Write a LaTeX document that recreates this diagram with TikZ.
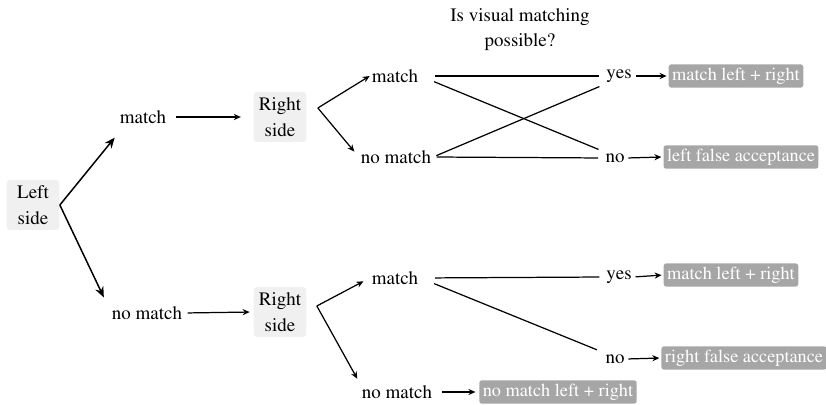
\documentclass[tikz,border=0pt]{standalone}
\usepackage[T1]{fontenc}
\usepackage{mathptmx}
\usetikzlibrary{arrows.meta, positioning}
\definecolor{sidegrey}{rgb}{0.94, 0.94, 0.94}
\definecolor{resultgrey}{rgb}{0.65, 0.65, 0.65}

\begin{document}
\begin{tikzpicture}[x=0.02cm, y=-0.02cm, font=\fontsize{10.8}{15}\selectfont,
  side/.style={fill=sidegrey, rounded corners=2pt, align=center, minimum width=1.06cm, minimum height=1.0cm, inner sep=1pt},
  word/.style={inner sep=1pt},
  result/.style={fill=resultgrey, text=white, rounded corners=1.5pt, minimum height=0.46cm, inner sep=2pt, font=\fontsize{10.4}{12}\selectfont},
  bigarrow/.style={-{Stealth[length=6pt, width=5pt]}, line width=0.85pt},
  arrow/.style={-{Stealth[length=4pt, width=3.5pt]}, line width=0.7pt},
  link/.style={line width=0.7pt}]

  \useasboundingbox (0,0) rectangle (826,405);

  % question
  \node[align=center, font=\fontsize{10.8}{14.2}\selectfont] (q) at (520,30) {Is visual matching\\possible?};

  % left side
  \node[side] (left) at (33,205) {Left\\side};
  \node[word] (m)  at (143,117) {match};
  \node[word] (nm) at (147,313) {no match};

  \draw[bigarrow] (left.east) -- ([shift={(-3,12)}]m.south west);
  \draw[bigarrow] (left.east) -- ([shift={(-6,-7)}]nm.north west);

  % right side
  \node[side] (rs1) at (280,117) {Right\\side};
  \node[side] (rs2) at (280,312) {Right\\side};

  \draw[arrow, shorten <=4.5pt, shorten >=7pt] (m.east) -- (rs1.west);
  \draw[arrow, shorten <=2pt, shorten >=2pt] (nm.east) -- (rs2.west);

  \coordinate (rs1o) at ([shift={(11,-9)}]rs1.east);
  \coordinate (rs2o) at ([shift={(10,-6)}]rs2.east);

  \node[word] (m2)  at (395,76)  {match};
  \node[word] (nm2) at (396,157) {no match};
  \node[word] (m3)  at (395,278) {match};
  \node[word] (nm3) at (397,392) {no match};

  \draw[arrow] (rs1o) -- (m2.west);
  \draw[arrow, shorten >=4pt] (rs1o) -- (nm2.west);
  \draw[arrow, shorten >=4pt] (rs2o) -- (m3.west);
  \draw[arrow, shorten >=3pt] (rs2o) -- (nm3.north west);

  % visual matching
  \node[word] (y1) at (619,76)  {yes};
  \node[word] (n1) at (615,158) {no};
  \node[word] (y2) at (619,277) {yes};
  \node[word] (n2) at (615,359) {no};

  \draw[link, shorten <=8.5pt, shorten >=2.8pt] (m2.east) -- (y1.west);
  \draw[link, shorten <=8.5pt, shorten >=3pt] (m2.east) -- (n1.north west);
  \draw[link, shorten <=2pt, shorten >=3pt] (nm2.east) -- (y1.south west);
  \draw[link, shorten <=2pt, shorten >=3pt] (nm2.east) -- (n1.west);
  \draw[link, shorten <=8.5pt, shorten >=2.8pt] (m3.east) -- (y2.west);
  \draw[link, shorten <=8.5pt, shorten >=4pt] (m3.east) -- (n2.north west);

  % outcomes
  \node[result] (r1) at (736,76)  {match left + right};
  \node[result] (r2) at (741,157) {left false acceptance};
  \node[result] (r3) at (731,275) {match left + right};
  \node[result] (r4) at (744,358) {right false acceptance};
  \node[result] (r5) at (558,392) {no match left + right};

  \draw[arrow, shorten <=1pt, shorten >=1pt] (y1.east) -- (r1.west);
  \draw[arrow, shorten <=1pt, shorten >=1pt] (n1.east) -- (r2.west);
  \draw[arrow, shorten <=1pt, shorten >=1pt] (y2.east) -- (r3.west);
  \draw[arrow, shorten <=1pt, shorten >=1pt] (n2.east) -- (r4.west);
  \draw[arrow, shorten <=4.5pt, shorten >=2pt] (nm3.east) -- (r5.west);

\end{tikzpicture}
\end{document}
